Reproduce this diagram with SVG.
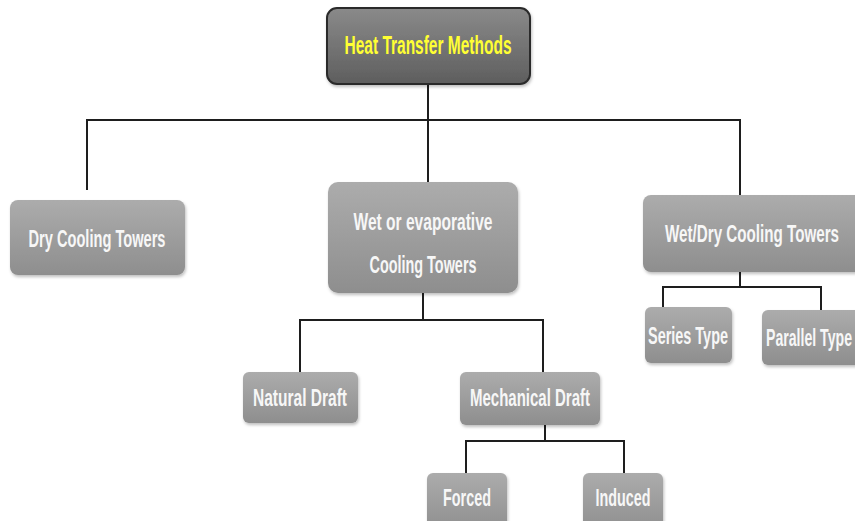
<svg xmlns="http://www.w3.org/2000/svg" width="855" height="521" viewBox="0 0 855 521">
<defs>
<linearGradient id="gTop" x1="0" y1="0" x2="0" y2="1">
<stop offset="0" stop-color="#8a8a8a"/><stop offset="1" stop-color="#5e5e5e"/>
</linearGradient>
<linearGradient id="gBox" x1="0" y1="0" x2="0" y2="1">
<stop offset="0" stop-color="#acacac"/><stop offset="1" stop-color="#8e8e8e"/>
</linearGradient>
<filter id="sh" x="-10%" y="-10%" width="120%" height="130%">
<feDropShadow dx="1" dy="2" stdDeviation="1.5" flood-color="#000" flood-opacity="0.25"/>
</filter>
</defs>
<style>
.box{fill:url(#gBox);filter:url(#sh)}
.top{fill:url(#gTop);stroke:#2a2a2a;stroke-width:2;filter:url(#sh)}
.t{font-family:"Liberation Sans",Arial,sans-serif;font-size:24px;font-weight:bold;fill:#f7f7f7;text-anchor:middle;dominant-baseline:central}
.ty{font-family:"Liberation Sans",Arial,sans-serif;font-size:25px;font-weight:bold;fill:#ffff33;text-anchor:middle;dominant-baseline:central}
.c{fill:none;stroke:#1e1e1e;stroke-width:2}
</style>
<rect width="855" height="521" fill="#ffffff"/>
<g id="connectors">
<path class="c" d="M428,84 V120 M87,190 V120 H740 V195 M428,120 V182"/>
<path class="c" d="M423,293 V320 M300,372 V320 H543 V372"/>
<path class="c" d="M740,272 V287 M663,307 V287 H821 V310"/>
<path class="c" d="M545,425 V441 M466,473 V441 H624 V473"/>
</g>
<g id="n-heat"><rect class="top" x="327" y="8" width="203" height="76" rx="10"/><text class="ty" x="428" y="45" textLength="167" lengthAdjust="spacingAndGlyphs">Heat Transfer Methods</text></g>
<g id="n-dry"><rect class="box" x="10" y="200" width="175" height="75" rx="8"/><text class="t" x="97" y="238" textLength="137" lengthAdjust="spacingAndGlyphs">Dry Cooling Towers</text></g>
<g id="n-wet"><rect class="box" x="328" y="182" width="190" height="111" rx="10"/><text class="t" x="423" y="221" textLength="139" lengthAdjust="spacingAndGlyphs">Wet or evaporative</text><text class="t" x="423" y="264" textLength="107" lengthAdjust="spacingAndGlyphs">Cooling Towers</text></g>
<g id="n-wetdry"><rect class="box" x="643" y="195" width="222" height="77" rx="8"/><text class="t" x="752" y="233" textLength="174" lengthAdjust="spacingAndGlyphs">Wet/Dry Cooling Towers</text></g>
<g id="n-series"><rect class="box" x="645" y="307" width="87" height="56" rx="6"/><text class="t" x="688" y="335" textLength="80" lengthAdjust="spacingAndGlyphs">Series Type</text></g>
<g id="n-parallel"><rect class="box" x="762" y="310" width="110" height="55" rx="6"/><text class="t" x="809" y="337" textLength="86" lengthAdjust="spacingAndGlyphs">Parallel Type</text></g>
<g id="n-natural"><rect class="box" x="243" y="372" width="115" height="51" rx="6"/><text class="t" x="300" y="397" textLength="94" lengthAdjust="spacingAndGlyphs">Natural Draft</text></g>
<g id="n-mech"><rect class="box" x="460" y="372" width="140" height="53" rx="6"/><text class="t" x="530" y="397" textLength="120" lengthAdjust="spacingAndGlyphs">Mechanical Draft</text></g>
<g id="n-forced"><rect class="box" x="427" y="473" width="80" height="60" rx="6"/><text class="t" x="467" y="497" textLength="48" lengthAdjust="spacingAndGlyphs">Forced</text></g>
<g id="n-induced"><rect class="box" x="583" y="473" width="80" height="60" rx="6"/><text class="t" x="623" y="497" textLength="55" lengthAdjust="spacingAndGlyphs">Induced</text></g>
</svg>
